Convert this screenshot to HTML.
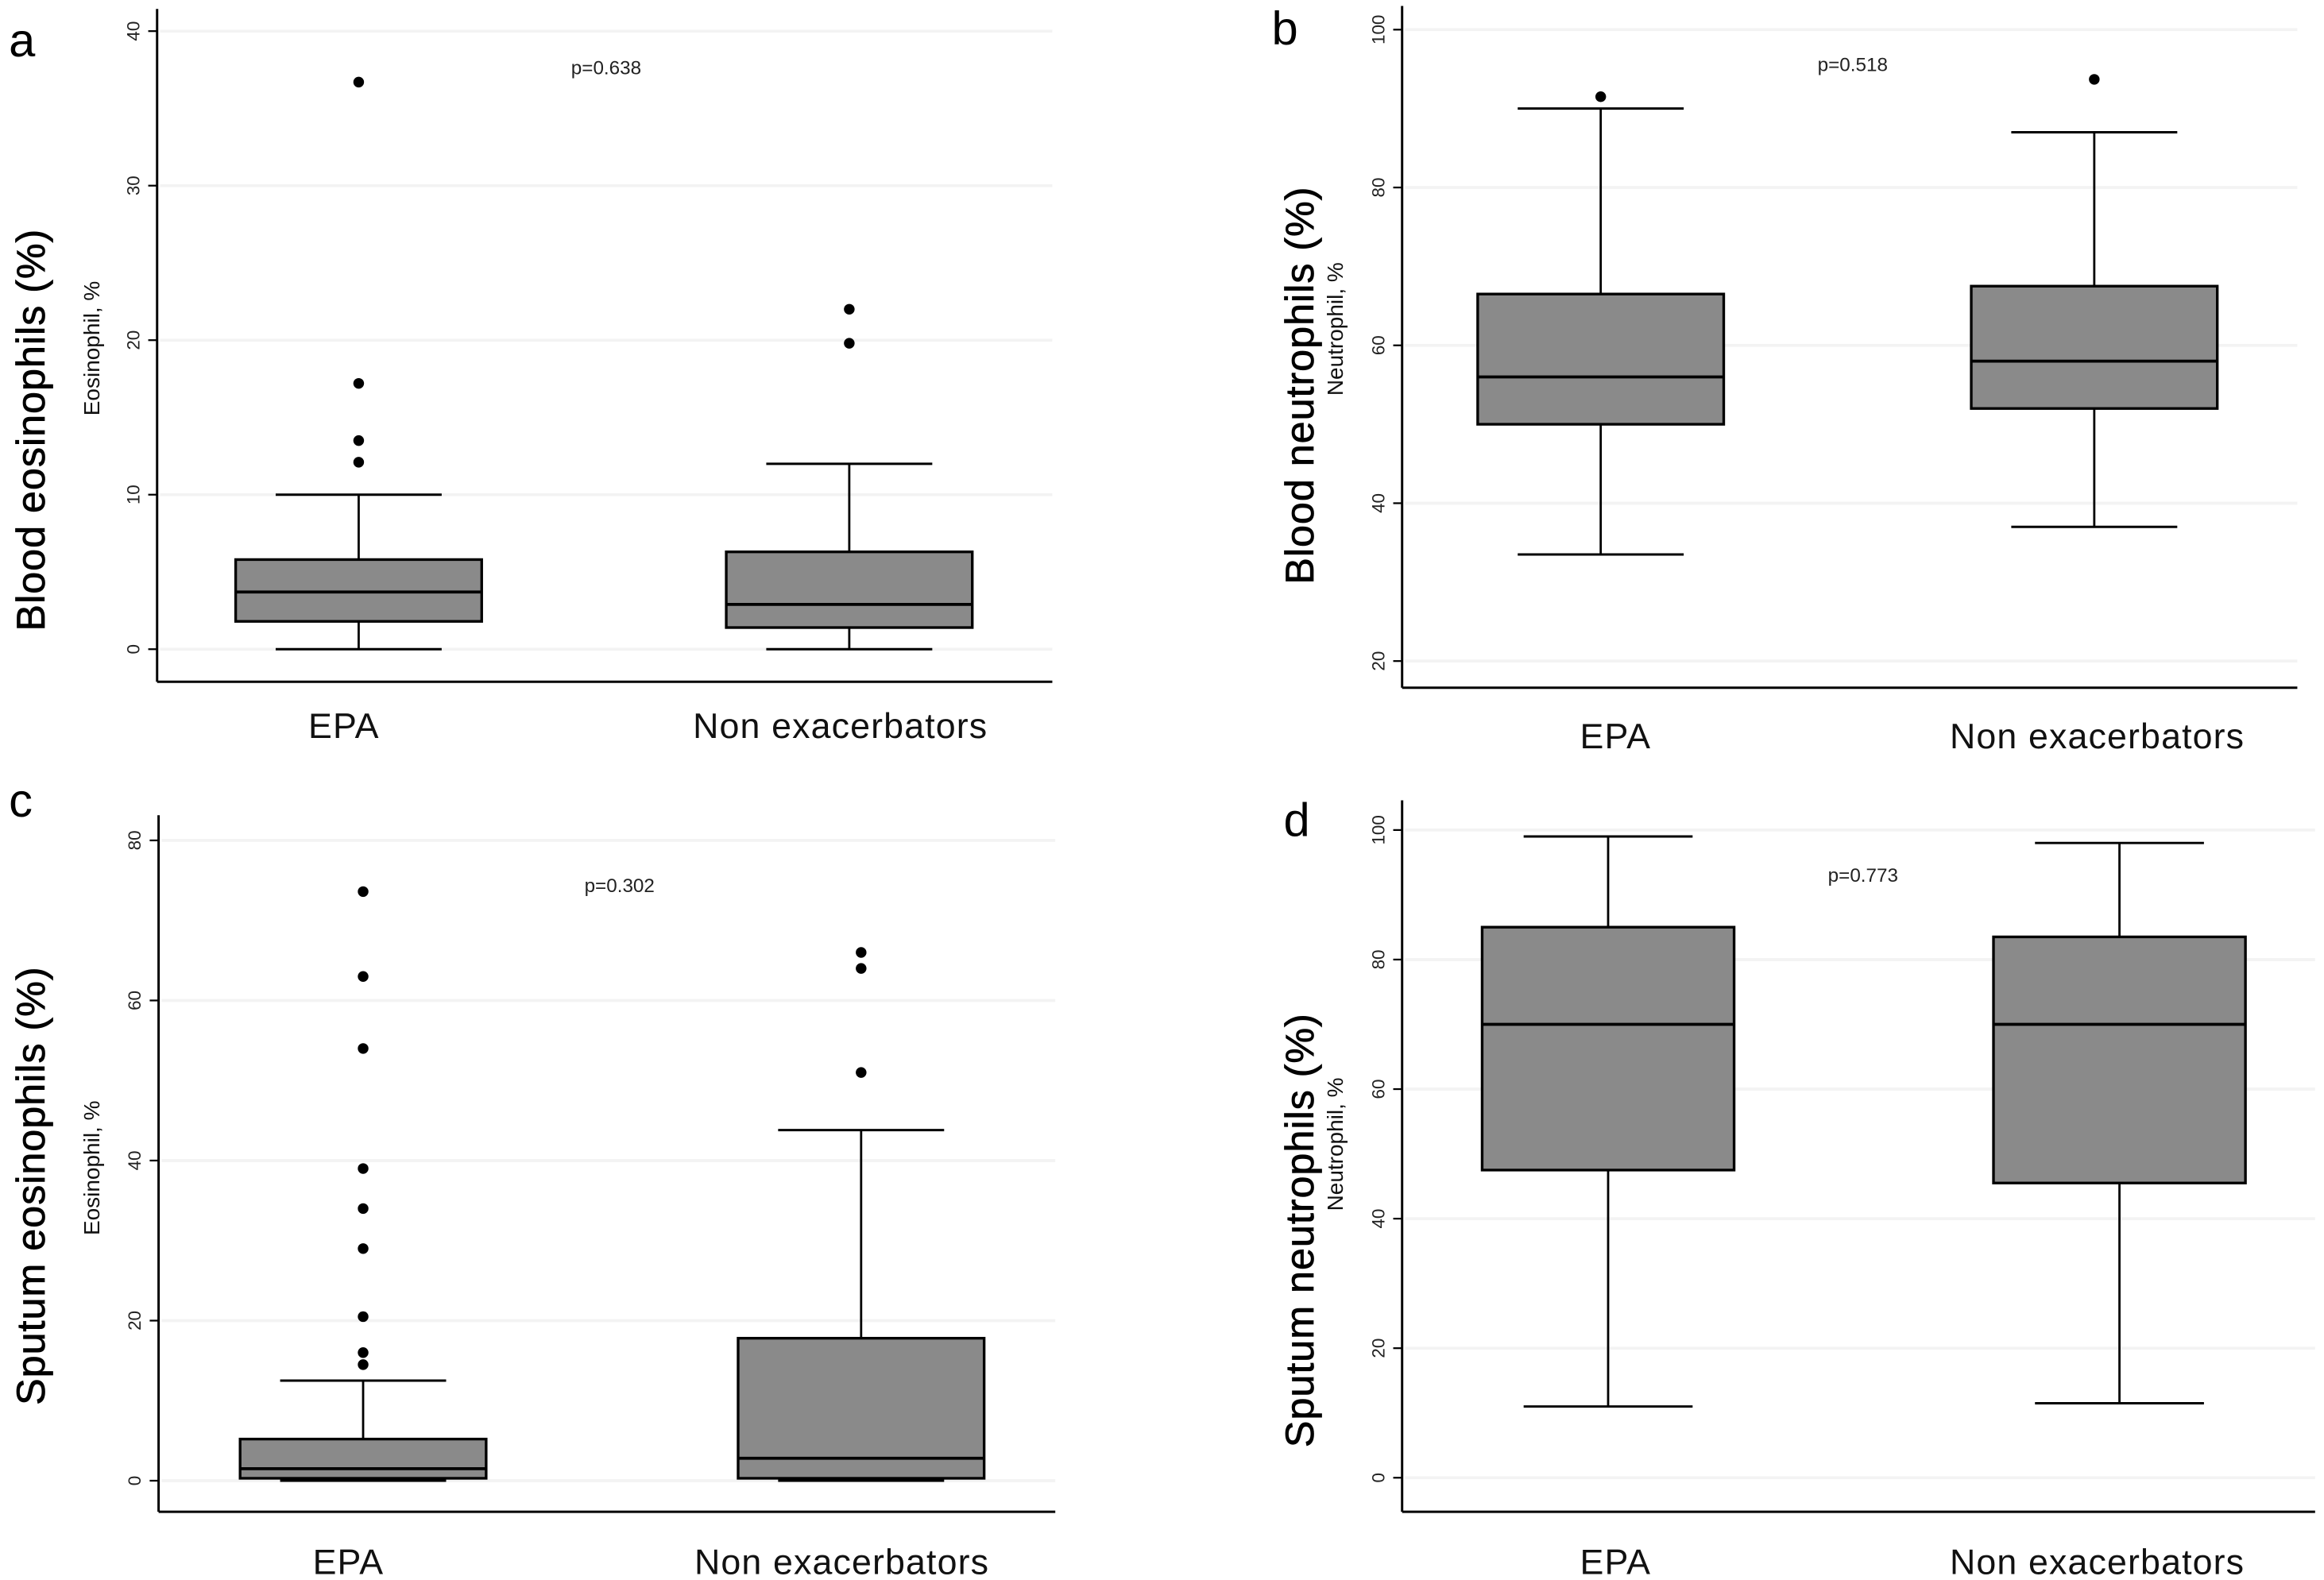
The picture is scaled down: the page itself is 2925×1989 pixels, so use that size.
<!DOCTYPE html>
<html><head><meta charset="utf-8"><style>
html,body{margin:0;padding:0;background:#fff;}
svg{display:block;}
text{font-family:"Liberation Sans",sans-serif;}
</style></head><body>
<svg id="chart" width="2925" height="1989" viewBox="0 0 1568 1066" preserveAspectRatio="none" xmlns="http://www.w3.org/2000/svg"></svg>
<script>
const categories = ["EPA", "Non exacerbators"];
// panel a: blood eosinophils
const aLower = [0, 0], aQ1 = [1.8, 1.4], aMedian = [3.7, 2.9], aQ3 = [5.8, 6.3], aUpper = [10, 12];
const aOutliers = [[36.7, 17.2, 13.5, 12.1], [22, 19.8]];
const aTicks = [0, 10, 20, 30, 40];
// panel b: blood neutrophils
const bLower = [33.5, 37], bQ1 = [50, 52], bMedian = [56, 58], bQ3 = [66.5, 67.5], bUpper = [90, 87];
const bOutliers = [[91.5], [93.7]];
const bTicks = [20, 40, 60, 80, 100];
// panel c: sputum eosinophils
const cLower = [0, 0], cQ1 = [0.3, 0.3], cMedian = [1.5, 2.8], cQ3 = [5.2, 17.8], cUpper = [12.5, 43.8];
const cOutliers = [[73.6, 63, 54, 39, 34, 29, 20.5, 16, 14.5], [66, 64, 51]];
const cTicks = [0, 20, 40, 60, 80];
// panel d: sputum neutrophils
const dLower = [11, 11.5], dQ1 = [47.5, 45.5], dMedian = [70, 70], dQ3 = [85, 83.5], dUpper = [99, 98];
const dOutliers = [[], []];
const dTicks = [0, 20, 40, 60, 80, 100];
const pValues = ["p=0.638", "p=0.518", "p=0.302", "p=0.773"];
const titles = ["Blood eosinophils (%)", "Blood neutrophils (%)", "Sputum eosinophils (%)", "Sputum neutrophils (%)"];
const subTitles = ["Eosinophil, %", "Neutrophil, %", "Eosinophil, %", "Neutrophil, %"];

const NS = "http://www.w3.org/2000/svg";
const svg = document.getElementById("chart");
function mk(tag, attrs, parent) {
  const e = document.createElementNS(NS, tag);
  for (const k in attrs) e.setAttribute(k, attrs[k]);
  (parent || svg).appendChild(e);
  return e;
}

const layouts = [
  {id:"a", letter:[6,38], axX:106, axTop:6, axBot:460, axRight:710, vMin:0, vMax:40, yAtMin:438, yAtMax:21, centers:[242,573], halfBox:83, halfCap:56, catY:498, catX:[232,567], pX:409, pY:50, titleX:30, subX:67, titleY:290, subY:235},
  {id:"b", letter:[858,30], axX:946, axTop:4, axBot:464, axRight:1550, vMin:20, vMax:100, yAtMin:446, yAtMax:20, centers:[1080,1413], halfBox:83, halfCap:56, catY:505, catX:[1090,1415], pX:1250, pY:48, titleX:886, subX:906, titleY:260, subY:222},
  {id:"c", letter:[6,551], axX:107, axTop:550, axBot:1020, axRight:712, vMin:0, vMax:80, yAtMin:999, yAtMax:567, centers:[245,581], halfBox:83, halfCap:56, catY:1062, catX:[235,568], pX:418, pY:602, titleX:30, subX:67, titleY:800, subY:788},
  {id:"d", letter:[866,564], axX:946, axTop:540, axBot:1020, axRight:1562, vMin:0, vMax:100, yAtMin:997, yAtMax:560, centers:[1085,1430], halfBox:85, halfCap:57, catY:1062, catX:[1090,1415], pX:1257, pY:595, titleX:886, subX:906, titleY:830, subY:772}
];
const data = [
  [aLower,aQ1,aMedian,aQ3,aUpper,aOutliers,aTicks],
  [bLower,bQ1,bMedian,bQ3,bUpper,bOutliers,bTicks],
  [cLower,cQ1,cMedian,cQ3,cUpper,cOutliers,cTicks],
  [dLower,dQ1,dMedian,dQ3,dUpper,dOutliers,dTicks]
];

layouts.forEach((L, pi) => {
  const [lo,q1,md,q3,up,outs,ticks] = data[pi];
  const y = v => L.yAtMin + (v - L.vMin) * (L.yAtMax - L.yAtMin) / (L.vMax - L.vMin);
  const g = mk("g", {});
  
  
  const letter = mk("text", {x:L.letter[0], y:L.letter[1], "font-size":32, fill:"#000"}, g);
  letter.textContent = L.id;
  
  
  ticks.forEach(t => {
    const gl = mk("line", {x1:L.axX+2, x2:L.axRight, y1:y(t), y2:y(t), stroke:"#f3f3f3", "stroke-width":2}, g);
    
    
    const tk = mk("line", {x1:L.axX-6, x2:L.axX, y1:y(t), y2:y(t), stroke:"#000", "stroke-width":1.2}, g);
    
    
    const tl = mk("text", {x:0, y:0, "font-size":12, fill:"#222", "text-anchor":"middle", transform:`translate(${L.axX-12},${y(t)}) rotate(-90)`}, g);
    tl.textContent = t;
    
    
  });
  const ya = mk("line", {x1:L.axX, x2:L.axX, y1:L.axTop, y2:L.axBot, stroke:"#000", "stroke-width":1.6}, g);
  
  
  const xa = mk("line", {x1:L.axX, x2:L.axRight, y1:L.axBot, y2:L.axBot, stroke:"#000", "stroke-width":1.6}, g);
  
  
  categories.forEach((c, i) => {
    const cx = L.centers[i];
    const wl = mk("line", {x1:cx, x2:cx, y1:y(up[i]), y2:y(lo[i]), stroke:"#000", "stroke-width":1.5}, g);
    
    
    [up[i], lo[i]].forEach(v => {
      const cap = mk("line", {x1:cx-L.halfCap, x2:cx+L.halfCap, y1:y(v), y2:y(v), stroke:"#000", "stroke-width":1.6}, g);
      
      
    });
    const bx = mk("rect", {x:cx-L.halfBox, y:y(q3[i]), width:2*L.halfBox, height:Math.max(1, y(q1[i])-y(q3[i])), fill:"#8a8a8a", stroke:"#000", "stroke-width":1.8}, g);
    
    
    const ml = mk("line", {x1:cx-L.halfBox, x2:cx+L.halfBox, y1:y(md[i]), y2:y(md[i]), stroke:"#000", "stroke-width":2}, g);
    
    
    outs[i].forEach(v => {
      const o = mk("circle", {cx:cx, cy:y(v), r:3.6, fill:"#000"}, g);
      
      
    });
    const cl = mk("text", {x:L.catX[i], y:L.catY, "font-size":24, "letter-spacing":"0.6", fill:"#111", "text-anchor":"middle"}, g);
    cl.textContent = c;
    
    
  });
  const pv = mk("text", {x:L.pX, y:L.pY, "font-size":13, fill:"#222", "text-anchor":"middle"}, g);
  pv.textContent = pValues[pi];
  
  
  const tt = mk("text", {x:0, y:0, "font-size":27, "letter-spacing":"0.5", fill:"#000", stroke:"#000", "stroke-width":0.4, "text-anchor":"middle", transform:`translate(${L.titleX},${L.titleY}) rotate(-90)`}, g);
  tt.textContent = titles[pi];
  
  
  const st = mk("text", {x:0, y:0, "font-size":15, fill:"#111", "text-anchor":"middle", transform:`translate(${L.subX},${L.subY}) rotate(-90)`}, g);
  st.textContent = subTitles[pi];
  
  
});
</script>
</body></html>
